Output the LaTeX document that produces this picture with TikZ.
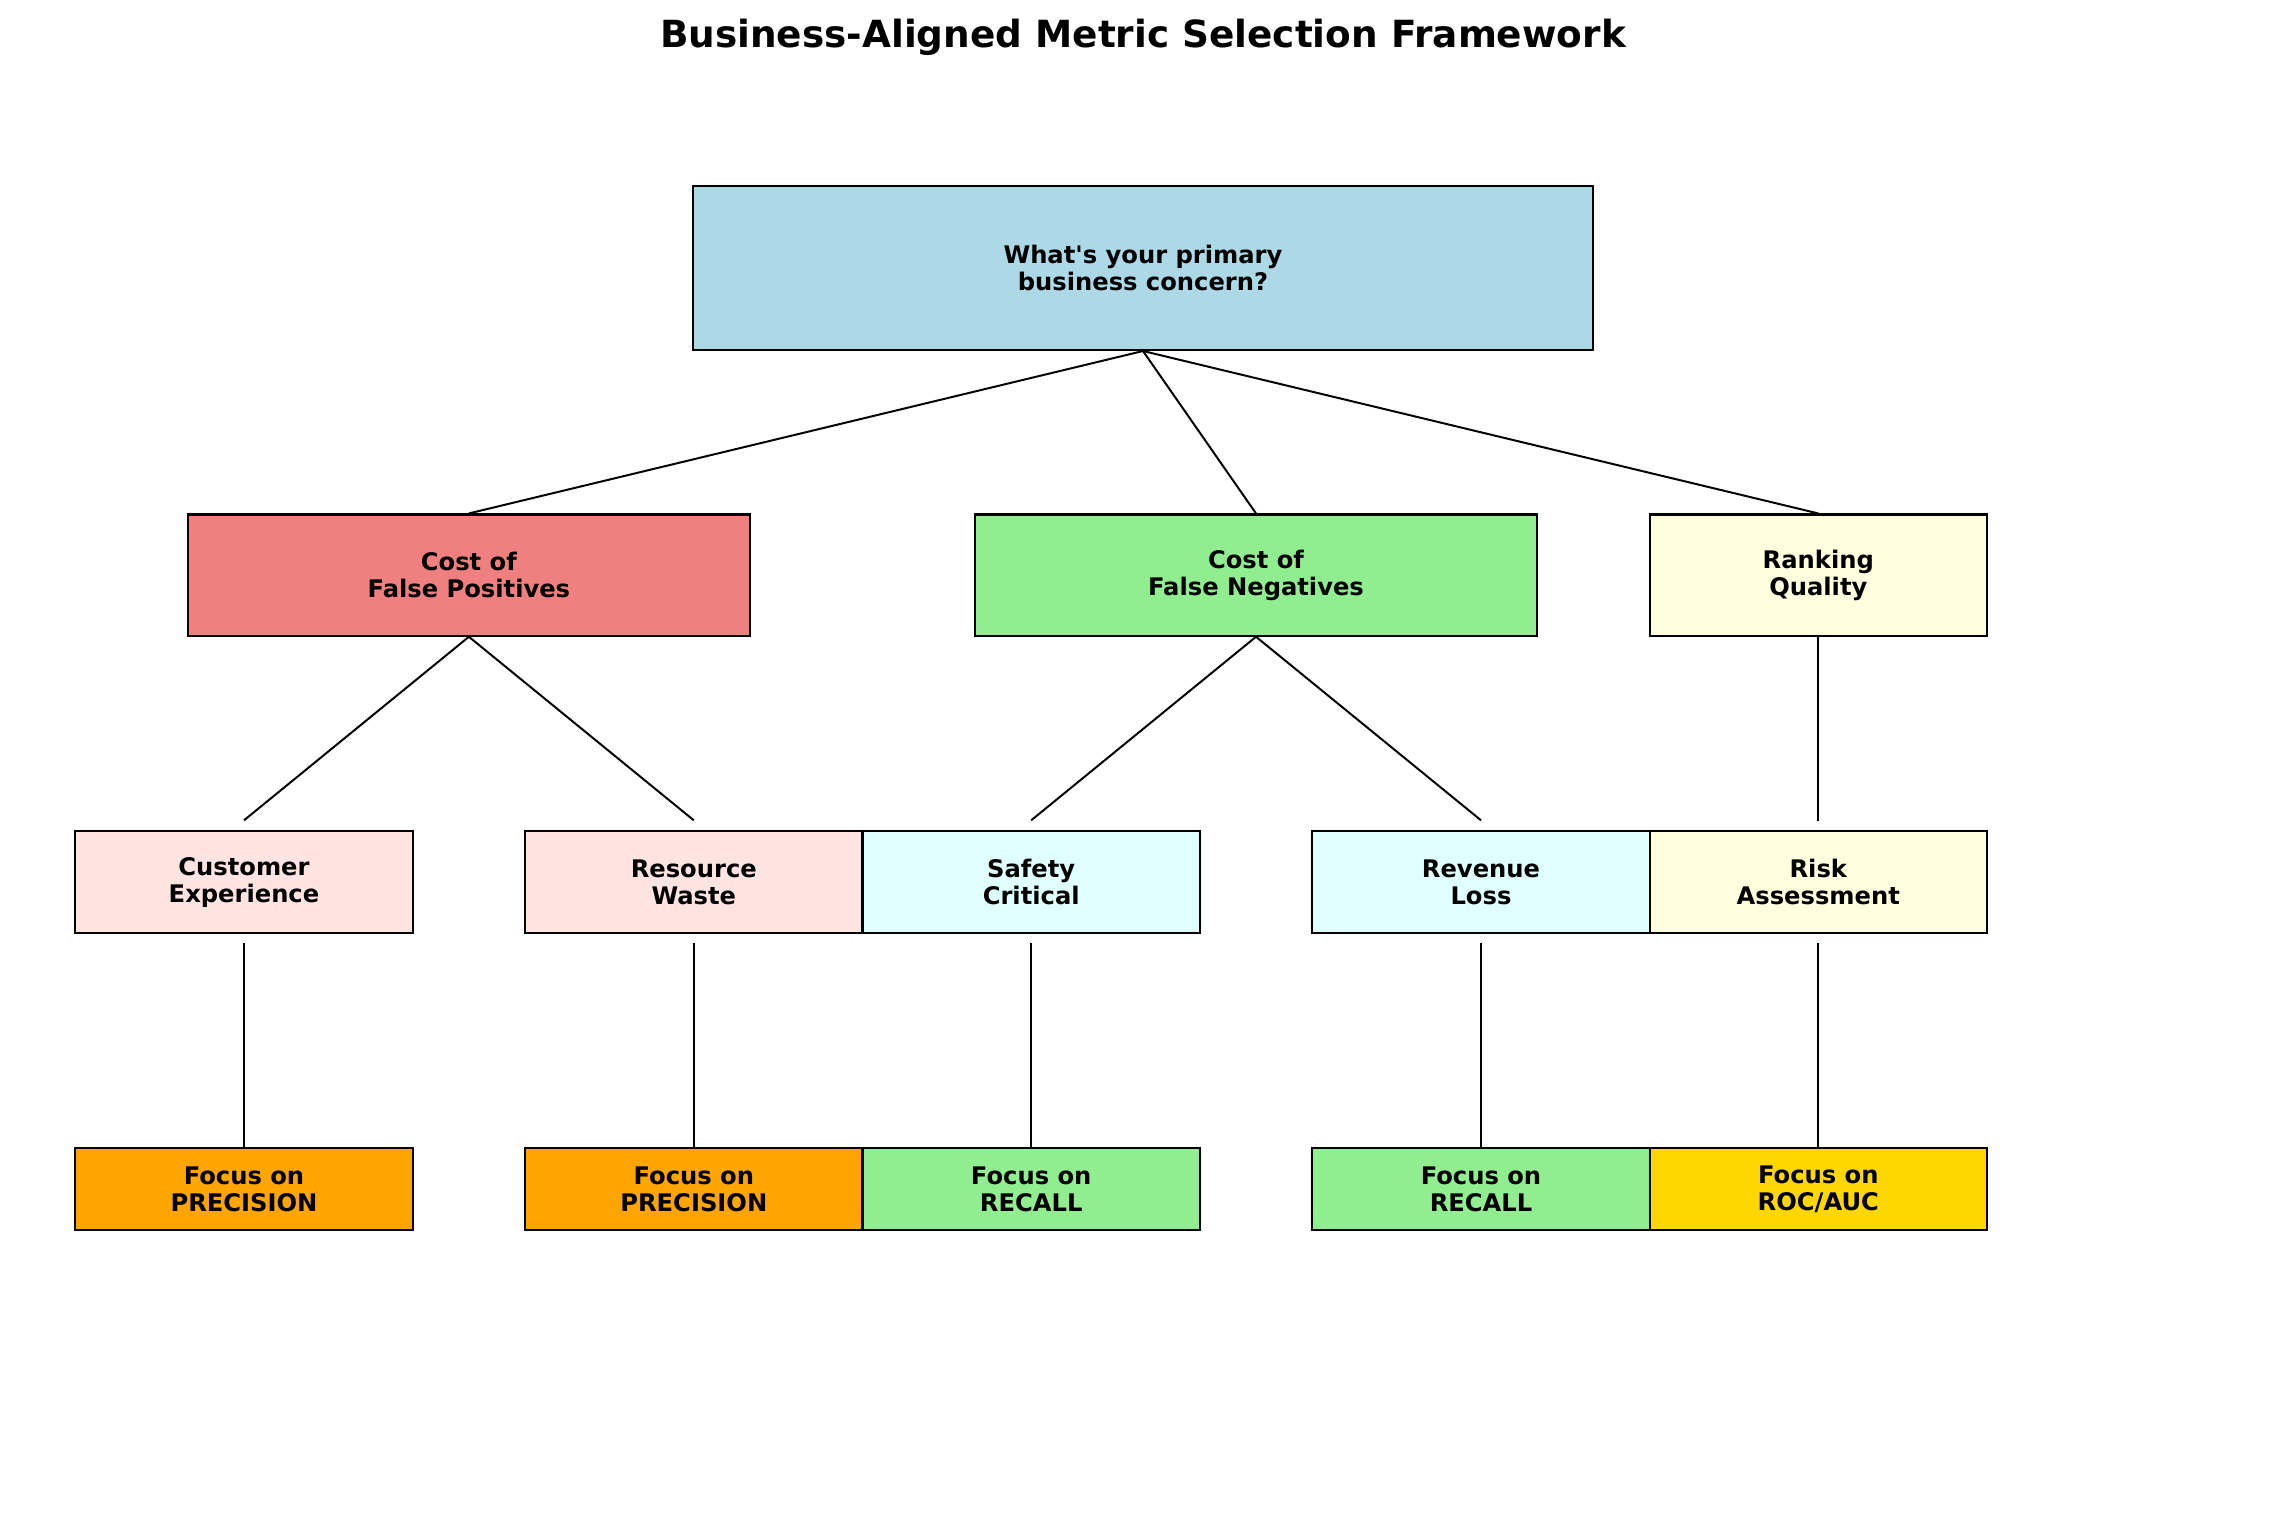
\documentclass[tikz,border=0pt]{standalone}
\usepackage{fontspec}
\setmainfont{DejaVu Sans}
\usepackage{tikz}
\usetikzlibrary{positioning}
\definecolor{lightblue}{HTML}{ADD8E6}
\definecolor{lightcoral}{HTML}{F08080}
\definecolor{lightgreen}{HTML}{90EE90}
\definecolor{lightyellow}{HTML}{FFFFE0}
\definecolor{mistyrose}{HTML}{FFE4E1}
\definecolor{lightcyan}{HTML}{E0FFFF}
\definecolor{orange}{HTML}{FFA500}
\definecolor{gold}{HTML}{FFD700}

\begin{document}
\begin{tikzpicture}
[x=0.4545pt,y=-0.4545pt,line width=0.9pt,
box/.style={rectangle,draw=black,line width=0.95pt,inner sep=0pt,align=center,minimum width=153.3pt,font=\bfseries\fontsize{11}{12.4}\selectfont},
big/.style={box,minimum width=255.1pt,minimum height=55.1pt},
small/.style={box,minimum height=46.4pt},
focus/.style={box,minimum height=37.3pt}]

\useasboundingbox (0,0) rectangle (2284,1515);

\node[anchor=base,font=\bfseries\fontsize{17}{20}\selectfont] (A) at (1143,47.4) {Business-Aligned Metric Selection Framework};

\node[box,fill=lightblue,minimum width=408.7pt,minimum height=74.5pt] (10) at (1143,268) {What\textquotesingle s your primary\\business concern?};

\node[big,fill=lightcoral] (20) at (468.9,575.1) {Cost of\\False Positives};
\node[big,fill=lightgreen] (21) at (1256,575.1) {Cost of\\False Negatives};
\node[box,fill=lightyellow,minimum height=55.1pt] (22) at (1818.3,575.1) {Ranking\\Quality};

\node[small,fill=mistyrose] (30) at (244,882.3) {Customer\\Experience};
\node[small,fill=mistyrose] (31) at (693.8,882.3) {Resource\\Waste};
\node[small,fill=lightcyan] (32) at (1031.2,882.3) {Safety\\Critical};
\node[small,fill=lightcyan] (33) at (1481,882.3) {Revenue\\Loss};
\node[small,fill=lightyellow] (34) at (1818.3,882.3) {Risk\\Assessment};

\node[focus,fill=orange] (40) at (244,1189) {Focus on\\PRECISION};
\node[focus,fill=orange] (41) at (693.8,1189) {Focus on\\PRECISION};
\node[focus,fill=lightgreen] (42) at (1031.2,1189) {Focus on\\RECALL};
\node[focus,fill=lightgreen] (43) at (1481,1189) {Focus on\\RECALL};
\node[focus,fill=gold] (44) at (1818.3,1189) {Focus on\\ROC/AUC};

\draw (10.south) -- (20.north);
\draw (10.south) -- (21.north);
\draw (10.south) -- (22.north);

\draw (20.south) -- ([yshift=4.5pt]30.north);
\draw (20.south) -- ([yshift=4.5pt]31.north);
\draw (21.south) -- ([yshift=4.5pt]32.north);
\draw (21.south) -- ([yshift=4.5pt]33.north);
\draw (22.south) -- ([yshift=4.2pt]34.north);

\draw ([yshift=-4.1pt]30.south) -- (40.north);
\draw ([yshift=-4.1pt]31.south) -- (41.north);
\draw ([yshift=-4.1pt]32.south) -- (42.north);
\draw ([yshift=-4.1pt]33.south) -- (43.north);
\draw ([yshift=-4.1pt]34.south) -- (44.north);
\end{tikzpicture}
\end{document}
